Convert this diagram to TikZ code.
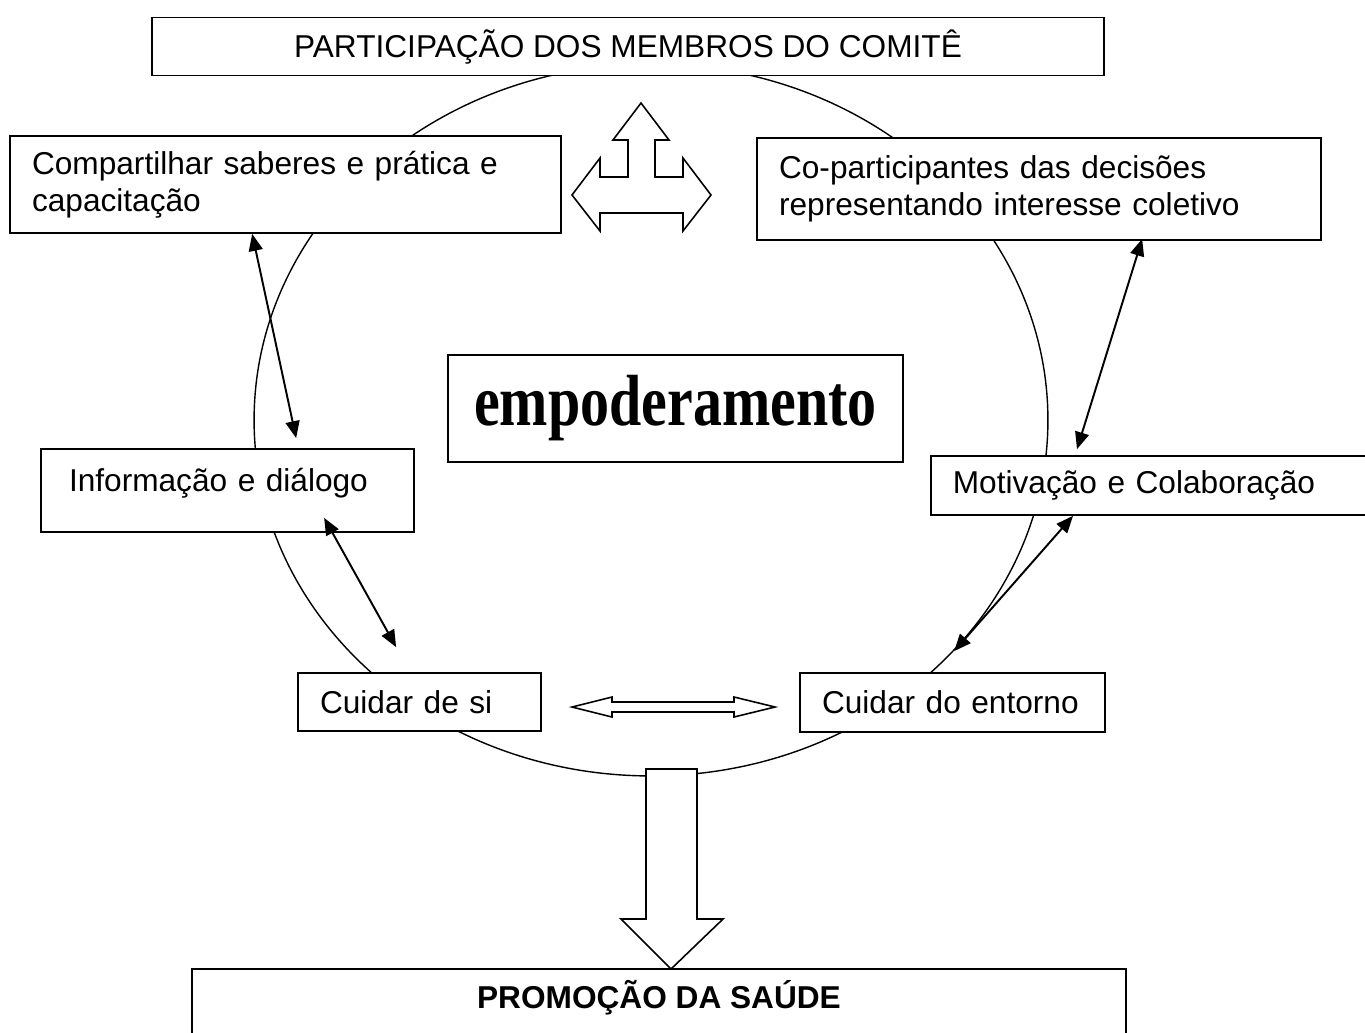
\documentclass[tikz,border=0pt]{standalone}
\usepackage{fontspec}
\setmainfont{Liberation Sans}
\newfontfamily\palavra{Liberation Serif}
\usetikzlibrary{arrows.meta,calc}

\tikzset{
  caixa/.style={draw, fill=white, line width=1pt, inner xsep=0.44cm,
    align=left, font=\fontsize{18}{21}\selectfont},
  seta/.style={<->, line width=1.1pt, >={Triangle[length=0.34cm,width=0.28cm]}},
  bloco/.style={draw, fill=white, line width=0.9pt, line join=miter},
}

\begin{document}
\begin{tikzpicture}[x=0.02cm, y=-0.02cm]
  \useasboundingbox (0,0) rectangle (1365,1032);
  \draw[line width=0.8pt] (651,420) ellipse [x radius=7.94cm, y radius=7.12cm];
  \draw[bloco] (646,769) -- (697,769) -- (697,919) -- (723,919) -- (671,969)
    -- (621,919) -- (646,919) -- cycle;
  \draw[bloco] (641,103) -- (669,140) -- (655,140) -- (655,177) -- (683,177)
    -- (683,158) -- (711,195) -- (683,231) -- (683,213) -- (600,213) -- (600,231)
    -- (572,195) -- (600,158) -- (600,177) -- (628,177) -- (628,140) -- (613,140) -- cycle;
  \draw[bloco] (572,707) -- (612,697) -- (612,702) -- (734,702) -- (734,697)
    -- (775,707) -- (734,717) -- (734,712) -- (612,712) -- (612,717) -- cycle;

  \node[caixa, align=center, minimum width=19.04cm, minimum height=1.16cm,
    inner ysep=1pt, text height=0.5cm, text depth=0.08cm] (comite) at (628,46.5)
    {PARTICIPAÇÃO DOS MEMBROS DO COMITÊ};
  \node[caixa, minimum width=11.02cm, minimum height=1.94cm, text width=10.14cm]
    (saberes) at (285.5,184.5) {Compartilhar saberes e prática e\\capacitação};
  \node[caixa, minimum width=11.28cm, minimum height=2.04cm, text width=10.4cm]
    (decisoes) at (1039,189) {Co-participantes das decisões\\representando interesse coletivo};
  \node[draw, fill=white, line width=1pt, minimum width=9.1cm, minimum height=2.14cm,
    font=\palavra\bfseries\fontsize{33}{36}\selectfont] (empoder) at (675.5,408.5)
    {\scalebox{1}[1.25]{empoderamento}};
  \node[caixa, inner xsep=0.56cm, minimum width=7.46cm, minimum height=1.66cm,
    text width=6.34cm, text height=0.5cm, text depth=0.46cm] (dialogo) at (227.5,490.5)
    {Informação e diálogo};
  \node[caixa, anchor=west, minimum width=9cm, minimum height=1.18cm, text width=8.12cm]
    (motiva) at (930,485.5) {Motivação e Colaboração};
  \node[caixa, minimum width=4.86cm, minimum height=1.16cm, text width=3.98cm]
    (si) at (419.5,702) {Cuidar de si};
  \node[caixa, minimum width=6.1cm, minimum height=1.18cm, text width=5.22cm]
    (entorno) at (952.5,702.5) {Cuidar do entorno};
  \node[caixa, align=center, anchor=north, minimum width=18.68cm, minimum height=1.64cm,
    text height=0.4cm, text depth=0.44cm, font=\fontsize{18}{21}\selectfont\bfseries]
    (saude) at (659,968) {PROMOÇÃO DA SAÚDE};

  \draw[seta] ($(saberes.south west)+(243,0)$) -- ($(dialogo.north west)+(256,-10)$);
  \draw[seta] ($(dialogo.south west)+(284,-15)$) -- ($(si.north west)+(99,-25)$);
  \draw[seta] ($(decisoes.south west)+(386,-2)$) -- ($(motiva.north west)+(147,-6)$);
  \draw[seta] ($(motiva.south west)+(143,0)$) -- ($(entorno.north west)+(155,-21)$);
\end{tikzpicture}
\end{document}
